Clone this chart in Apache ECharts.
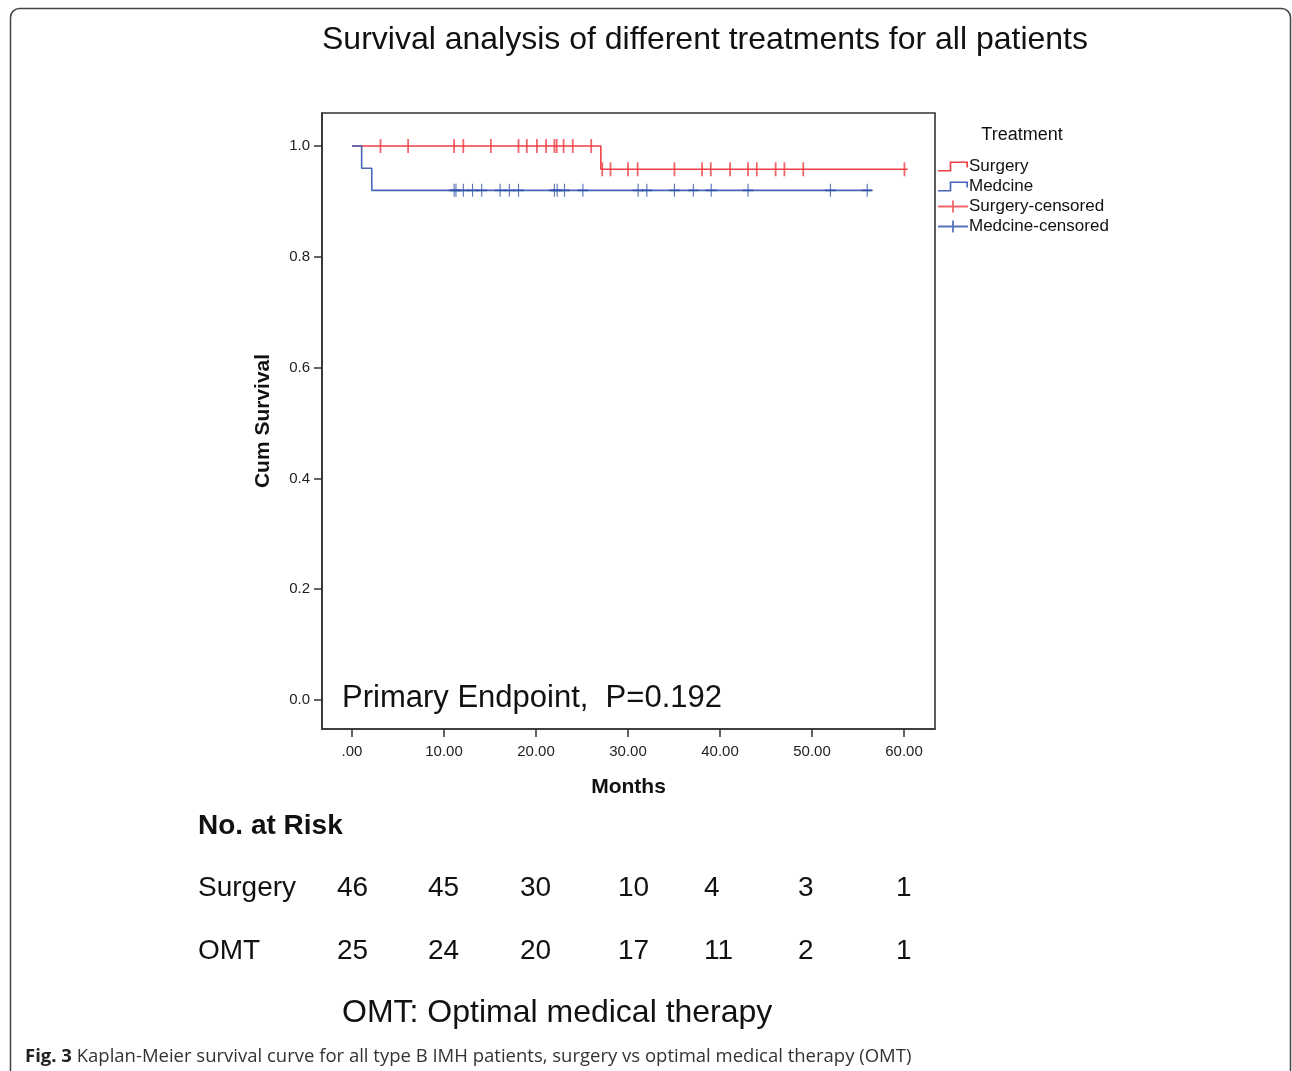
<!DOCTYPE html>
<html><head><meta charset="utf-8">
<script src="https://cdn.jsdelivr.net/npm/echarts@6/dist/echarts.min.js"></script>
<style>html,body{margin:0;padding:0;background:#fff}#c{width:1292px;height:1071px}</style>
</head><body><div id="c"></div>
<script>
// ---- data ----
const seriesNames = ['Surgery', 'Medcine', 'Surgery-censored', 'Medcine-censored'];
const surgeryCurve = [[0, 1], [27.05, 0.958], [60.4, 0.958]];
const medicineCurve = [[0, 1], [1.05, 0.96], [2.15, 0.92], [56.5, 0.92]];
const surgeryCensoredTimes = [3.1, 6.1, 11.1, 12.1, 15.1, 18.1, 19.0, 20.1, 21.1, 22.0, 22.25, 23.0, 24.0, 26.0,
  27.2, 28.1, 30.0, 31.05, 35.05, 38.05, 39.0, 41.1, 43.05, 44.0, 46.05, 47.0, 49.05, 60.05];
const surgeryCensoredSurv = [1, 1, 1, 1, 1, 1, 1, 1, 1, 1, 1, 1, 1, 1,
  0.958, 0.958, 0.958, 0.958, 0.958, 0.958, 0.958, 0.958, 0.958, 0.958, 0.958, 0.958, 0.958, 0.958];
const medicineCensoredTimes = [11.1, 11.3, 12.1, 13.1, 14.1, 16.1, 17.1, 18.1, 22.0, 22.3, 23.1, 25.1,
  31.1, 32.05, 35.05, 37.1, 39.05, 43.05, 52.0, 56.0];
const medicineCensoredSurv = [0.92, 0.92, 0.92, 0.92, 0.92, 0.92, 0.92, 0.92, 0.92, 0.92, 0.92, 0.92,
  0.92, 0.92, 0.92, 0.92, 0.92, 0.92, 0.92, 0.92];
const xTicks = [0, 10, 20, 30, 40, 50, 60];
const yTicks = [0, 0.2, 0.4, 0.6, 0.8, 1.0];
const riskRowLabels = ['Surgery', 'OMT'];
const riskSurgery = [46, 45, 30, 10, 4, 3, 1];
const riskOMT = [25, 24, 20, 17, 11, 2, 1];
const titleText = 'Survival analysis of different treatments for all patients';
const annotationText = 'Primary Endpoint,  P=0.192';

// ---- layout / style ----
const RED = '#ef3f46';
const BLUE = '#4766b9';
const BLUE_MARK = '#2f4fa8';
const FONT = '"Liberation Sans", Arial, sans-serif';
const riskColX = [337, 428, 520, 618, 704, 798, 896];
const riskRowY = [890, 953];

const stepIcon = 'path://M0,8.4 L11.2,8.4 L11.2,0.2 L28.8,0.2 L28.8,6 L27.2,6 L27.2,1.8 L12.8,1.8 L12.8,10 L0,10 Z';
const plusIcon = 'path://M0,5.1 L14.1,5.1 L14.1,0 L15.9,0 L15.9,5.1 L30,5.1 L30,6.9 L15.9,6.9 L15.9,12 L14.1,12 L14.1,6.9 L0,6.9 Z';
const tickSym = 'path://M0,0 L2,0 L2,14 L0,14 Z';
const plusSym = 'path://M0,5.6 L5.4,5.6 L5.4,0 L6.6,0 L6.6,5.6 L12,5.6 L12,7.4 L6.6,7.4 L6.6,13 L5.4,13 L5.4,7.4 L0,7.4 Z';

const zip = (a, b) => a.map((v, i) => [v, b[i]]);

const chart = echarts.init(document.getElementById('c'), null, { renderer: 'canvas' });

const riskGraphics = [];
riskRowLabels.forEach((lab, r) => {
  riskGraphics.push({ type: 'text', left: 198, top: riskRowY[r] - 16,
    style: { text: lab, font: '28px ' + FONT, fill: '#111' } });
  const vals = r === 0 ? riskSurgery : riskOMT;
  vals.forEach((v, i) => {
    riskGraphics.push({ type: 'text', left: riskColX[i], top: riskRowY[r] - 16,
      style: { text: String(v), font: '28px ' + FONT, fill: '#111' } });
  });
});

const option = {
  animation: false,
  backgroundColor: '#fff',
  title: [
    { text: titleText, left: 700, top: 19, textAlign: 'center',
      textStyle: { fontFamily: FONT, fontSize: 32, fontWeight: 'normal', color: '#111' } },
    { text: 'Treatment', left: 1017, top: 121, textAlign: 'center',
      textStyle: { fontFamily: FONT, fontSize: 18, fontWeight: 'normal', color: '#111' } }
  ],
  legend: {
    orient: 'vertical', left: 938, top: 158, itemWidth: 30, itemHeight: 12, itemGap: 3,
    padding: 0,
    textStyle: { fontFamily: FONT, fontSize: 17, color: '#111', padding: [0, 0, 0, -4] },
    data: [
      { name: seriesNames[0], icon: stepIcon },
      { name: seriesNames[1], icon: stepIcon },
      { name: seriesNames[2], icon: plusIcon },
      { name: seriesNames[3], icon: plusIcon }
    ]
  },
  grid: { left: 322, top: 113, width: 613, height: 616, show: true,
    borderColor: '#333', borderWidth: 1.6, backgroundColor: 'transparent' },
  xAxis: {
    type: 'value', min: -3.26, max: 63.37,
    name: 'Months', nameLocation: 'middle', nameGap: 48,
    nameTextStyle: { fontFamily: FONT, fontSize: 21, fontWeight: 'bold', color: '#111' },
    axisLine: { show: true, onZero: false, lineStyle: { color: '#333', width: 1.6 } },
    axisTick: { show: true, length: 8, customValues: xTicks, lineStyle: { color: '#333', width: 1.5 } },
    axisLabel: { customValues: xTicks, margin: 15, fontFamily: FONT, fontSize: 15, color: '#222',
      formatter: v => v === 0 ? '.00' : v.toFixed(2) },
    splitLine: { show: false }
  },
  yAxis: {
    type: 'value', min: -0.0523, max: 1.0596,
    name: 'Cum Survival', nameLocation: 'middle', nameGap: 48, nameRotate: 90,
    nameTextStyle: { fontFamily: FONT, fontSize: 21, fontWeight: 'bold', color: '#111' },
    axisLine: { show: true, onZero: false, lineStyle: { color: '#333', width: 1.6 } },
    axisTick: { show: true, length: 8, customValues: yTicks, lineStyle: { color: '#333', width: 1.5 } },
    axisLabel: { customValues: yTicks, margin: 12, fontFamily: FONT, fontSize: 15, color: '#222',
      formatter: v => v.toFixed(1) },
    splitLine: { show: false }
  },
  series: [
    { name: seriesNames[0], type: 'line', step: 'end', data: surgeryCurve, showSymbol: false,
      lineStyle: { color: RED, width: 1.6 }, itemStyle: { color: RED }, z: 2 },
    { name: seriesNames[2], type: 'scatter', data: zip(surgeryCensoredTimes, surgeryCensoredSurv),
      symbol: tickSym, symbolSize: [1.8, 14], itemStyle: { color: RED }, z: 3 },
    { name: seriesNames[1], type: 'line', step: 'end', data: medicineCurve, showSymbol: false,
      lineStyle: { color: BLUE, width: 1.6 }, itemStyle: { color: BLUE }, z: 4 },
    { name: seriesNames[3], type: 'scatter', data: zip(medicineCensoredTimes, medicineCensoredSurv),
      symbol: plusSym, symbolSize: [11, 13], itemStyle: { color: BLUE_MARK }, z: 5 }
  ],
  graphic: [
    { type: 'rect', shape: { x: 10.5, y: 8.5, width: 1280, height: 1100, r: 9 },
      style: { fill: 'none', stroke: '#444', lineWidth: 1.5 }, silent: true },
    { type: 'text', left: 342, top: 683,
      style: { text: annotationText, font: '31px ' + FONT, fill: '#111' } },
    { type: 'text', left: 198, top: 812,
      style: { text: 'No. at Risk', font: 'bold 28px ' + FONT, fill: '#111' } },
    ...riskGraphics,
    { type: 'text', left: 342, top: 997,
      style: { text: 'OMT: Optimal medical therapy', font: '32px ' + FONT, fill: '#111' } },
    { type: 'text', left: 25, top: 1047,
      style: { text: '{b|Fig. 3} Kaplan-Meier survival curve for all type B IMH patients, surgery vs optimal medical therapy (OMT)',
        font: '18.5px "Open Sans", sans-serif', fill: '#333',
        rich: { b: { font: 'bold 18.5px "Open Sans", sans-serif', fill: '#222' } } } }
  ]
};
chart.setOption(option);
</script>
</body></html>
